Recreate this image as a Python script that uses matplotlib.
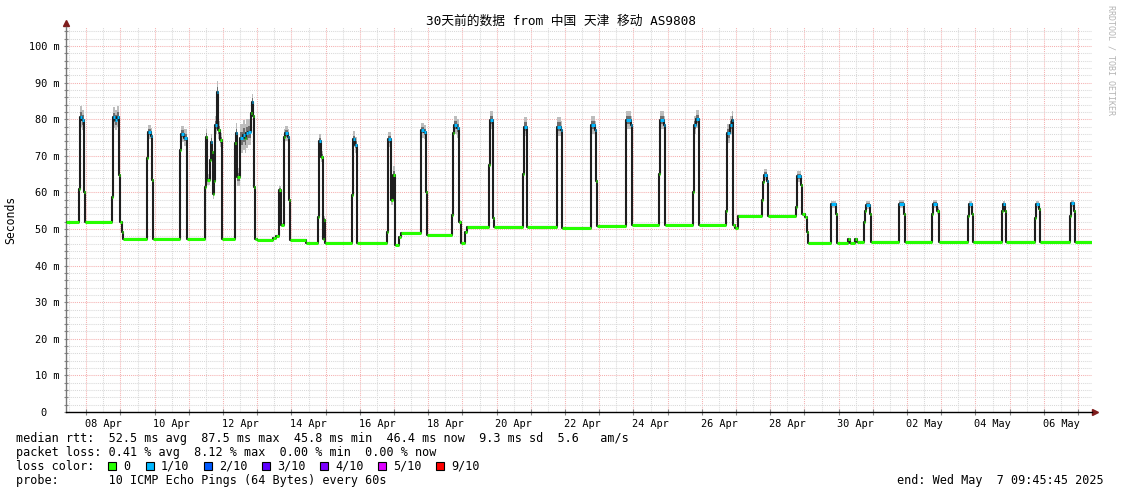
import numpy as np
import pandas as pd
import matplotlib
matplotlib.use('Agg')
import matplotlib.pyplot as plt
import matplotlib.dates as mdates
import matplotlib.ticker as mticker
from matplotlib.collections import LineCollection
from matplotlib.patches import Rectangle
from matplotlib.transforms import offset_copy

# median rtt steps (year 2025), one line per day
times = [
    '04-07 09:45', '04-07 18:48', '04-07 19:39', '04-07 21:03', '04-07 22:06', '04-07 23:00',
    '04-08 18:00', '04-08 18:50', '04-08 20:14', '04-08 21:38', '04-08 22:54', '04-08 23:30',
    '04-09 01:17', '04-09 02:00', '04-09 18:34', '04-09 19:16', '04-09 21:10', '04-09 22:05', '04-09 22:55',
    '04-10 18:00', '04-10 18:43', '04-10 20:41', '04-10 22:27',
    '04-11 11:35', '04-11 12:17', '04-11 13:00', '04-11 14:36', '04-11 15:18', '04-11 16:00', '04-11 16:55',
    '04-11 17:37', '04-11 18:30', '04-11 20:00', '04-11 20:42', '04-11 21:38', '04-11 23:02', '04-11 23:31',
    '04-12 08:10', '04-12 08:52', '04-12 10:04', '04-12 11:41', '04-12 12:10', '04-12 13:47', '04-12 15:12',
    '04-12 16:23', '04-12 17:30', '04-12 19:24', '04-12 20:06', '04-12 20:48', '04-12 21:30', '04-12 22:25', '04-12 23:36',
    '04-13 11:04', '04-13 13:27', '04-13 15:04', '04-13 16:58', '04-13 18:35', '04-13 19:47', '04-13 21:24', '04-13 22:18', '04-13 22:48',
    '04-14 10:32', '04-14 18:40', '04-14 19:22', '04-14 20:34', '04-14 21:46', '04-14 22:53', '04-14 23:52',
    '04-15 18:34', '04-15 19:16', '04-15 20:50', '04-15 22:05',
    '04-16 18:43', '04-16 19:25', '04-16 22:00', '04-16 23:22', '04-17 00:33', '04-17 03:35', '04-17 04:47',
    '04-17 18:36', '04-17 19:01', '04-17 21:16', '04-17 22:20', '04-17 23:15',
    '04-18 16:47', '04-18 17:29', '04-18 18:20', '04-18 20:26', '04-18 21:42', '04-18 22:41', '04-18 23:13', '04-19 01:41', '04-19 02:53',
    '04-19 18:56', '04-19 19:17', '04-19 21:10', '04-19 21:44', '04-19 22:25',
    '04-20 18:30', '04-20 19:00', '04-20 21:00', '04-20 21:37',
    '04-21 18:06', '04-21 18:34', '04-21 21:10', '04-21 22:05',
    '04-22 18:00', '04-22 18:26', '04-22 21:00', '04-22 21:43', '04-22 22:25',
    '04-23 18:36', '04-23 19:01', '04-23 22:00', '04-23 22:50',
    '04-24 18:12', '04-24 18:34', '04-24 21:30', '04-24 22:25',
    '04-25 17:38', '04-25 18:12', '04-25 19:57', '04-25 22:16',
    '04-26 17:02', '04-26 17:45', '04-26 19:30', '04-26 20:55', '04-26 22:10', '04-26 23:00', '04-27 01:40',
    '04-27 18:07', '04-27 18:42', '04-27 19:24', '04-27 21:30', '04-27 22:33',
    '04-28 18:13', '04-28 18:55', '04-28 21:22', '04-28 22:04', '04-29 00:31', '04-29 01:43', '04-29 02:07',
    '04-29 18:18', '04-29 18:48', '04-29 21:50', '04-29 22:30',
    '04-30 06:46', '04-30 07:49', '04-30 11:41', '04-30 12:44', '04-30 17:30', '04-30 18:20', '04-30 19:00', '04-30 21:50', '04-30 22:40',
    '05-01 18:06', '05-01 18:36', '05-01 21:44', '05-01 22:48',
    '05-02 17:40', '05-02 18:00', '05-02 21:18', '05-02 22:12',
    '05-03 18:48', '05-03 19:22', '05-03 21:28', '05-03 22:10',
    '05-04 18:42', '05-04 19:07', '05-04 21:00', '05-04 21:43',
    '05-05 18:06', '05-05 18:36', '05-05 20:55', '05-05 21:37',
    '05-06 18:12', '05-06 18:54', '05-06 20:48', '05-06 21:43',
]

rtt = [
    52.0, 61.0, 80.7, 79.8, 60.0, 52.0,
    58.8, 80.5, 79.8, 80.7, 64.8, 52.0,
    49.3, 47.3, 69.3, 76.5, 75.5, 63.4, 47.3,
    71.6, 76.0, 75.0, 47.3,
    61.6, 75.2, 63.4, 68.9, 73.9, 71.0, 59.7,
    63.0, 78.4, 87.5, 77.0, 74.3, 49.3, 47.3,
    73.4, 76.1, 64.3, 66.1, 74.8, 75.7, 74.8,
    76.1, 76.5, 81.6, 84.8, 81.0, 61.6, 47.3, 47.0,
    47.6, 48.1, 60.7, 51.1, 75.2, 76.1, 75.2, 57.9, 47.0,
    46.1, 53.4, 74.0, 69.8, 47.4, 52.5, 46.1,
    59.3, 74.5, 73.0, 46.1,
    49.3, 74.5, 58.0, 64.8, 45.6, 47.9, 48.8,
    61.0, 77.0, 76.5, 60.0, 48.4,
    53.8, 76.1, 78.4, 77.5, 52.0, 48.3, 46.1, 49.3, 50.6,
    67.5, 79.8, 79.0, 52.9, 50.6,
    65.0, 78.0, 77.5, 50.6,
    68.0, 78.0, 77.0, 50.3,
    65.0, 78.4, 77.0, 63.0, 50.8,
    66.0, 79.8, 78.5, 51.1,
    65.0, 79.8, 78.5, 51.0,
    60.0, 78.5, 80.0, 51.2,
    55.0, 76.1, 78.5, 79.8, 51.1, 50.4, 53.6,
    58.0, 62.9, 64.8, 63.0, 53.6,
    56.0, 64.4, 62.0, 54.0, 53.4, 49.3, 46.3,
    52.0, 56.7, 54.0, 46.3,
    47.2, 46.3, 47.2, 46.5, 52.0, 55.0, 56.6, 54.0, 46.4,
    54.0, 56.8, 54.0, 46.4,
    54.0, 56.8, 55.0, 46.4,
    53.5, 56.7, 54.0, 46.4,
    55.0, 56.7, 55.0, 46.4,
    53.0, 56.7, 55.5, 46.4,
    53.5, 57.0, 55.0, 46.4,
]

# packet loss per step: 0 -> 0/10, 1 -> 1/10
loss = [
    0, 0, 1, 1, 0, 0,
    0, 1, 1, 1, 0, 0,
    0, 0, 0, 1, 1, 0, 0,
    0, 1, 1, 0,
    0, 0, 0, 0, 1, 0, 0,
    0, 1, 1, 0, 0, 0, 0,
    0, 1, 0, 0, 1, 1, 0,
    1, 1, 0, 1, 0, 0, 0, 0,
    0, 0, 0, 0, 0, 1, 1, 0, 0,
    0, 0, 1, 0, 0, 0, 0,
    0, 1, 1, 0,
    0, 1, 0, 0, 0, 0, 0,
    0, 1, 1, 0, 0,
    0, 0, 1, 1, 0, 0, 0, 0, 0,
    0, 1, 1, 0, 0,
    0, 1, 1, 0,
    0, 1, 1, 0,
    0, 1, 1, 0, 0,
    0, 1, 1, 0,
    0, 1, 1, 0,
    0, 1, 1, 0,
    0, 1, 1, 1, 0, 0, 0,
    0, 0, 1, 1, 0,
    0, 1, 0, 0, 0, 0, 0,
    0, 1, 0, 0,
    0, 0, 0, 0, 0, 0, 1, 0, 0,
    0, 1, 0, 0,
    0, 1, 0, 0,
    0, 1, 0, 0,
    0, 1, 0, 0,
    0, 1, 0, 0,
    0, 1, 0, 0,
]

# half spread of the smoke around the median, ms
smoke = [
    0.2, 1.0, 2.8, 2.8, 1.0, 0.2,
    1.0, 2.8, 2.8, 2.8, 1.5, 0.2,
    0.2, 0.2, 1.5, 2.0, 2.0, 1.0, 0.2,
    1.5, 2.2, 2.2, 0.2,
    1.5, 2.0, 1.5, 2.0, 2.0, 2.0, 1.5,
    2.0, 2.5, 3.0, 2.5, 2.0, 0.3, 0.2,
    2.5, 3.0, 2.5, 2.5, 4.0, 4.0, 4.0,
    4.0, 3.5, 2.5, 2.0, 2.0, 1.0, 0.2, 0.2,
    0.2, 0.3, 1.0, 0.5, 2.0, 2.0, 2.0, 1.0, 0.2,
    0.2, 1.0, 2.0, 1.5, 0.3, 1.0, 0.2,
    1.0, 2.2, 2.2, 0.2,
    0.5, 2.0, 1.5, 2.5, 0.2, 0.2, 0.2,
    1.0, 2.0, 2.0, 1.0, 0.2,
    0.5, 2.0, 2.5, 2.5, 0.5, 0.2, 0.2, 0.2, 0.2,
    1.5, 2.5, 2.5, 0.5, 0.2,
    1.5, 2.5, 2.5, 0.2,
    1.5, 2.5, 2.5, 0.2,
    1.5, 2.5, 2.5, 1.0, 0.2,
    1.5, 2.5, 2.5, 0.2,
    1.5, 2.5, 2.5, 0.2,
    1.5, 2.5, 2.5, 0.2,
    1.0, 2.5, 2.5, 2.5, 0.3, 0.2, 0.2,
    1.0, 1.5, 1.5, 1.5, 0.2,
    1.0, 1.5, 1.5, 0.5, 0.2, 0.2, 0.2,
    1.0, 1.0, 1.0, 0.2,
    0.3, 0.2, 0.3, 0.2, 1.0, 1.0, 1.0, 1.0, 0.2,
    1.0, 1.0, 1.0, 0.2,
    1.0, 1.0, 1.0, 0.2,
    1.0, 1.0, 1.0, 0.2,
    1.0, 1.0, 1.0, 0.2,
    1.0, 1.0, 1.0, 0.2,
    1.0, 1.0, 1.0, 0.2,
]

assert len(times) == len(rtt) == len(loss) == len(smoke)

end_time = '2025-05-07 09:45:45'

loss_labels = ['0', '1/10', '2/10', '3/10', '4/10', '5/10', '9/10']
loss_colors = ['#26ff00', '#00b8ff', '#0059ff', '#5e00ff', '#7e00ff', '#dd00ff', '#ff0000']

tick_days = ['04-08', '04-10', '04-12', '04-14', '04-16', '04-18', '04-20', '04-22',
             '04-24', '04-26', '04-28', '04-30', '05-02', '05-04', '05-06']
tick_labels = ['08 Apr', '10 Apr', '12 Apr', '14 Apr', '16 Apr', '18 Apr', '20 Apr', '22 Apr',
               '24 Apr', '26 Apr', '28 Apr', '30 Apr', '02 May', '04 May', '06 May']
ytick_vals = [0, 10, 20, 30, 40, 50, 60, 70, 80, 90, 100]
ytick_labels = ['0  ', '10 m', '20 m', '30 m', '40 m', '50 m', '60 m', '70 m', '80 m', '90 m', '100 m']

title = '30天前的数据 from 中国 天津 移动 AS9808'
line_rtt = 'median rtt:  52.5 ms avg  87.5 ms max  45.8 ms min  46.4 ms now  9.3 ms sd  5.6   am/s'
line_loss = 'packet loss: 0.41 % avg  8.12 % max  0.00 % min  0.00 % now'
line_probe = 'probe:       10 ICMP Echo Pings (64 Bytes) every 60s'
line_end = 'end: Wed May  7 09:45:45 2025'

plt.rcParams['font.family'] = 'DejaVu Sans Mono'

W, H = 1121, 494
fig = plt.figure(figsize=(W / 100, H / 100), dpi=100)
ax = fig.add_axes([66 / W, 1 - 412 / H, (1092 - 66) / W, (412 - 27) / H])

t_end = mdates.date2num(pd.Timestamp(end_time))
t_start = t_end - 30
t = mdates.date2num(pd.to_datetime(['2025-' + s for s in times]).to_numpy())
tt = np.append(t, t_end)
v = np.array(rtt)
vv = np.append(v, v[-1])
sm = np.append(smoke, smoke[-1])

# smoke
ax.fill_between(tt, vv - sm, vv + sm, step='post', color='#bdbdbd', lw=0, zorder=2)
ax.fill_between(tt, vv - sm * 0.45, vv + sm * 0.45, step='post', color='#6e6e6e', lw=0, zorder=2)
# median
ax.step(tt, vv, where='post', color='#1e1e1e', lw=1.5, zorder=3)
segs = [[(tt[i], v[i]), (tt[i + 1], v[i])] for i in range(len(v))]
lc = LineCollection(segs, colors=[loss_colors[k] for k in loss], linewidths=2.2,
                    capstyle='butt', zorder=4)
ax.add_collection(lc)

ax.set_xlim(t_start, t_end)
ax.set_ylim(0, 105.2)

ax.xaxis.set_major_locator(mdates.DayLocator())
ax.xaxis.set_minor_locator(mdates.HourLocator(byhour=12))
label_at = dict(zip(tick_days, tick_labels))
ax.xaxis.set_major_formatter(mticker.NullFormatter())
ax.xaxis.set_minor_formatter(mticker.FuncFormatter(
    lambda x, p: label_at.get(mdates.num2date(x).strftime('%m-%d'), '')))
ax.set_yticks(ytick_vals, labels=ytick_labels)
ax.yaxis.set_minor_locator(mticker.MultipleLocator(2))

ax.set_axisbelow(True)
ax.grid(which='major', color='#f5b0b0', ls=(0, (1, 1)), lw=0.75)
ax.grid(which='minor', color='#d9d9d9', ls=(0, (1, 1)), lw=0.75)

ax.tick_params(axis='y', which='both', direction='inout', length=3, width=0.8,
               color='#888888', labelsize=7.4, pad=3)
ax.tick_params(axis='x', which='major', direction='inout', length=4, width=0.8, color='#888888')
ax.tick_params(axis='x', which='minor', length=0, labelsize=7.4, pad=5)

for sp in ['top', 'right']:
    ax.spines[sp].set_visible(False)
ax.spines['left'].set_color('#777777')
ax.spines['bottom'].set_color('black')
ax.spines['left'].set_linewidth(1)
ax.spines['bottom'].set_linewidth(1)

red = '#7f1d1d'
ax.plot([0], [1], marker='^', ms=5, color=red, clip_on=False,
        transform=offset_copy(ax.transAxes, fig=fig, y=4, units='dots'))
ax.plot([1], [0], marker='>', ms=5, color=red, clip_on=False,
        transform=offset_copy(ax.transAxes, fig=fig, x=3, units='dots'))

fig.text(560.5 / W, 1 - 21 / H, title, ha='center', va='center', fontsize=9.2,
         family=['DejaVu Sans Mono', 'Noto Sans CJK SC'])
fig.text(11 / W, 1 - 219.5 / H, 'Seconds', rotation=90, ha='center', va='center', fontsize=8.3)
fig.text(1111 / W, 1 - 60 / H, 'RRDTOOL / TOBI OETIKER', rotation=270, ha='center',
         va='center', fontsize=6, color='#b4b4b4')

rows_y = [438, 452, 466, 480]
fs = 8.5
fig.text(16 / W, 1 - rows_y[0] / H, line_rtt, va='center', fontsize=fs)
fig.text(16 / W, 1 - rows_y[1] / H, line_loss, va='center', fontsize=fs)
fig.text(16 / W, 1 - rows_y[2] / H, 'loss color:', va='center', fontsize=fs)
box_x = [108, 146, 204, 262, 320, 378, 436]
for bx, lab, c in zip(box_x, loss_labels, loss_colors):
    fig.add_artist(Rectangle((bx / W, 1 - (rows_y[2] + 4) / H), 8 / W, 8 / H,
                             transform=fig.transFigure, facecolor=c, edgecolor='black', lw=0.8))
    fig.text((bx + 15) / W, 1 - rows_y[2] / H, lab, va='center', fontsize=fs)
fig.text(16 / W, 1 - rows_y[3] / H, line_probe, va='center', fontsize=fs)
fig.text(1104 / W, 1 - rows_y[3] / H, line_end, ha='right', va='center', fontsize=fs)

fig.savefig('out.png', dpi=100)
